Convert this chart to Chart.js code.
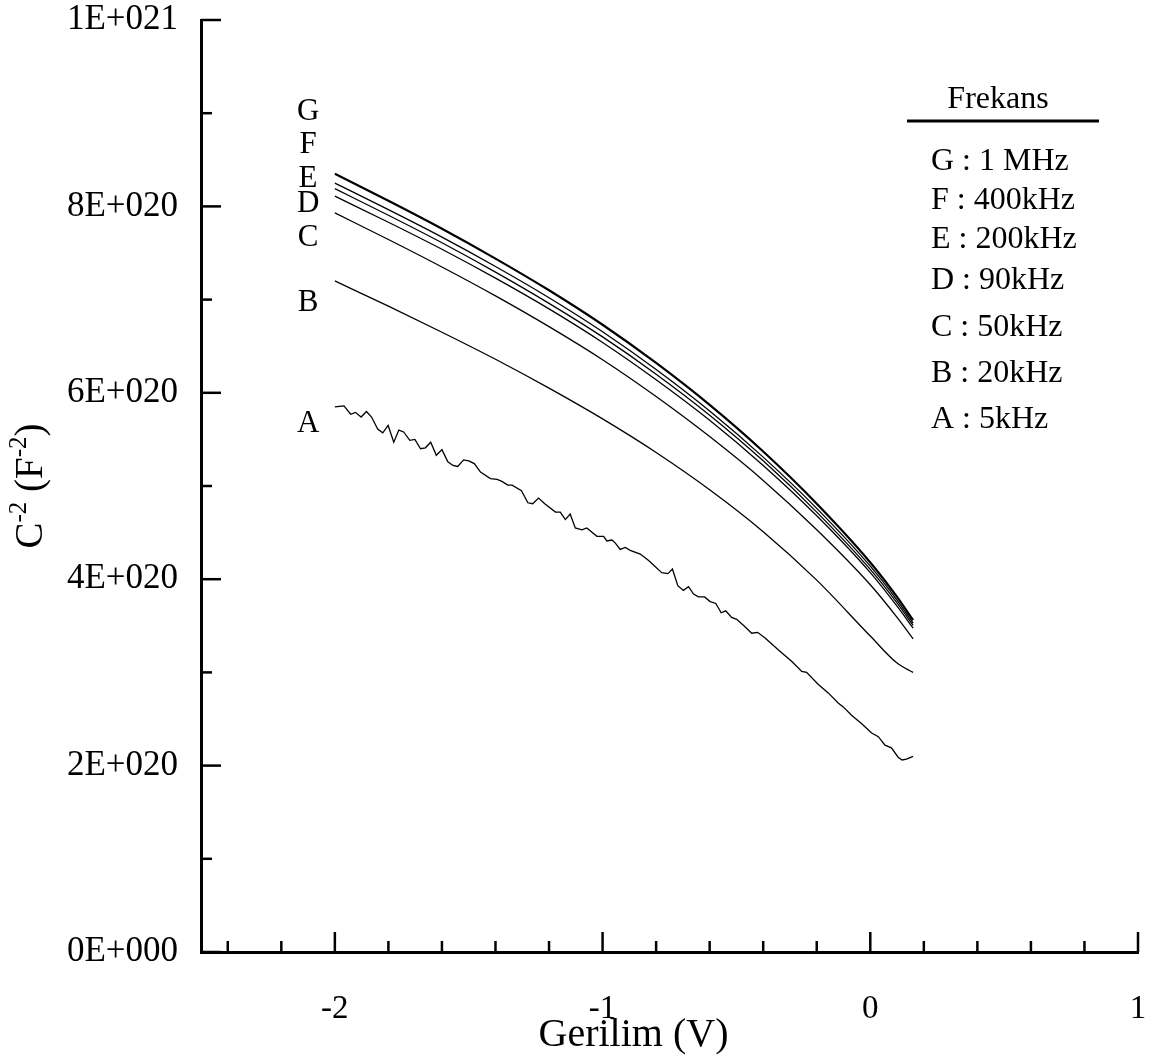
<!DOCTYPE html>
<html>
<head>
<meta charset="utf-8">
<script src="https://cdn.jsdelivr.net/npm/chart.js@4.4.0/dist/chart.umd.min.js"></script>
<style>
  html, body { margin: 0; padding: 0; background: #fff; }
  #wrap { width: 1150px; height: 1055px; }
</style>
</head>
<body>
<div id="wrap"><canvas id="c" width="1150" height="1055"></canvas></div>
<script>
// Gerilim (V) for the smooth curves B..G
const voltage = [-2, -1.8, -1.6, -1.4, -1.2, -1.0, -0.8, -0.6, -0.4, -0.2, 0, 0.1, 0.16];

// C^-2 (F^-2)
const curveG = [8.35e20, 8.06e20, 7.76e20, 7.44e20, 7.10e20, 6.73e20, 6.32e20, 5.87e20, 5.37e20, 4.81e20, 4.18e20, 3.81e20, 3.56e20];
const curveF = [8.25e20, 7.965e20, 7.67e20, 7.355e20, 7.02e20, 6.655e20, 6.25e20, 5.805e20, 5.31e20, 4.76e20, 4.14e20, 3.775e20, 3.53e20];
const curveE = [8.19e20, 7.905e20, 7.61e20, 7.295e20, 6.96e20, 6.60e20, 6.20e20, 5.76e20, 5.27e20, 4.72e20, 4.105e20, 3.745e20, 3.505e20];
const curveD = [8.11e20, 7.83e20, 7.54e20, 7.23e20, 6.90e20, 6.54e20, 6.14e20, 5.705e20, 5.22e20, 4.68e20, 4.07e20, 3.71e20, 3.475e20];
const curveC = [7.93e20, 7.645e20, 7.35e20, 7.04e20, 6.71e20, 6.355e20, 5.96e20, 5.53e20, 5.06e20, 4.53e20, 3.94e20, 3.59e20, 3.36e20];
const curveB = [7.20e20, 6.93e20, 6.65e20, 6.36e20, 6.05e20, 5.72e20, 5.36e20, 4.96e20, 4.51e20, 3.99e20, 3.39e20, 3.10e20, 3.00e20];

// 5 kHz curve is noisy, so it has its own denser sampling
const voltageA = [-2.000, -1.966, -1.941, -1.923, -1.902, -1.882, -1.863, -1.840, -1.821, -1.801,
  -1.780, -1.761, -1.743, -1.720, -1.701, -1.680, -1.662, -1.642, -1.621, -1.600,
  -1.578, -1.559, -1.541, -1.519, -1.500, -1.479, -1.456, -1.419, -1.394, -1.376,
  -1.354, -1.338, -1.303, -1.279, -1.261, -1.239, -1.216, -1.176, -1.158, -1.139,
  -1.121, -1.102, -1.077, -1.059, -1.021, -0.996, -0.984, -0.965, -0.953, -0.934,
  -0.915, -0.897, -0.859, -0.828, -0.779, -0.756, -0.739, -0.719, -0.698, -0.679,
  -0.660, -0.642, -0.619, -0.598, -0.577, -0.557, -0.540, -0.518, -0.499, -0.468,
  -0.443, -0.421, -0.393, -0.343, -0.294, -0.256, -0.238, -0.194, -0.157, -0.119,
  -0.101, -0.070, -0.032, 0.005, 0.030, 0.055, 0.079, 0.104, 0.119, 0.135, 0.160];
const curveA = [5.85e20, 5.86e20, 5.77e20, 5.79e20, 5.74e20, 5.80e20, 5.74e20, 5.61e20, 5.57e20, 5.65e20,
  5.47e20, 5.60e20, 5.58e20, 5.49e20, 5.50e20, 5.40e20, 5.41e20, 5.47e20, 5.33e20, 5.39e20,
  5.26e20, 5.22e20, 5.21e20, 5.28e20, 5.27e20, 5.24e20, 5.15e20, 5.08e20, 5.07e20, 5.05e20,
  5.01e20, 5.01e20, 4.95e20, 4.82e20, 4.81e20, 4.87e20, 4.81e20, 4.72e20, 4.72e20, 4.64e20,
  4.70e20, 4.55e20, 4.53e20, 4.55e20, 4.46e20, 4.46e20, 4.41e20, 4.42e20, 4.39e20, 4.32e20,
  4.34e20, 4.31e20, 4.27e20, 4.20e20, 4.07e20, 4.06e20, 4.11e20, 3.93e20, 3.88e20, 3.92e20,
  3.84e20, 3.81e20, 3.81e20, 3.76e20, 3.74e20, 3.64e20, 3.66e20, 3.59e20, 3.57e20, 3.49e20,
  3.42e20, 3.43e20, 3.37e20, 3.24e20, 3.12e20, 3.01e20, 3.00e20, 2.87e20, 2.78e20, 2.67e20,
  2.63e20, 2.54e20, 2.45e20, 2.35e20, 2.31e20, 2.22e20, 2.19e20, 2.09e20, 2.06e20, 2.07e20, 2.10e20];

const curveNames = ['A', 'B', 'C', 'D', 'E', 'F', 'G'];
const legendLines = ['G : 1 MHz', 'F : 400kHz', 'E : 200kHz', 'D : 90kHz', 'C : 50kHz', 'B : 20kHz', 'A : 5kHz'];

// where the letters next to the curve starts sit (data space)
const letterV = -2.1;
const letterY = [5.67e20, 6.96e20, 7.66e20, 8.03e20, 8.30e20, 8.66e20, 9.01e20];

const xMajorTicks = [-2, -1, 0, 1];
const xMinorTicks = [-2.4, -2.2, -1.8, -1.6, -1.4, -1.2, -0.8, -0.6, -0.4, -0.2, 0.2, 0.4, 0.6, 0.8];
const yMajorTicks = [0, 2e20, 4e20, 6e20, 8e20, 1e21];
const yMinorTicks = [1e20, 3e20, 5e20, 7e20, 9e20];

const SERIF = '"Liberation Serif", "Times New Roman", serif';
const legendRowY = [142, 181, 220, 261, 308, 354, 400];   // offsets below the plot top

function pts(xs, ys) {
  return xs.map((x, i) => ({ x: x, y: ys[i] }));
}

function sciLabel(v) {
  if (v === 0) return '0E+000';
  let exp = Math.floor(Math.log10(v) + 1e-9);
  let mant = Math.round(v / Math.pow(10, exp));
  if (mant >= 10) { mant = mant / 10; exp++; }
  return mant + 'E+' + String(exp).padStart(3, '0');
}

// no extra room for tick labels that stick out past the axis ends
function noOverflow(s) {
  s.paddingTop = 0; s.paddingBottom = 0; s.paddingLeft = 0; s.paddingRight = 0;
}

const smooth = { borderColor: '#000', borderWidth: 1.3, pointRadius: 0, fill: false, cubicInterpolationMode: 'monotone' };

const datasets = [
  Object.assign({ label: 'A', data: pts(voltageA, curveA) }, smooth, { cubicInterpolationMode: 'default', tension: 0 }),
  Object.assign({ label: 'B', data: pts(voltage, curveB) }, smooth),
  Object.assign({ label: 'C', data: pts(voltage, curveC) }, smooth),
  Object.assign({ label: 'D', data: pts(voltage, curveD) }, smooth),
  Object.assign({ label: 'E', data: pts(voltage, curveE) }, smooth),
  Object.assign({ label: 'F', data: pts(voltage, curveF) }, smooth),
  Object.assign({ label: 'G', data: pts(voltage, curveG) }, smooth, { borderWidth: 2.2 })
];

// inward ticks, curve letters, legend box and both axis titles
const decorations = {
  id: 'decorations',
  afterDraw(chart) {
    const ctx = chart.ctx;
    const xs = chart.scales.x, ys = chart.scales.y, ca = chart.chartArea;
    ctx.save();
    ctx.strokeStyle = '#000';
    ctx.lineWidth = 2.5;
    const tick = (x1, y1, x2, y2) => { ctx.beginPath(); ctx.moveTo(x1, y1); ctx.lineTo(x2, y2); ctx.stroke(); };
    xMajorTicks.forEach(v => { const p = xs.getPixelForValue(v); tick(p, ca.bottom, p, ca.bottom - 20); });
    xMinorTicks.forEach(v => { const p = xs.getPixelForValue(v); tick(p, ca.bottom, p, ca.bottom - 11); });
    yMajorTicks.forEach(v => { const p = ys.getPixelForValue(v); tick(ca.left, p, ca.left + 20, p); });
    yMinorTicks.forEach(v => { const p = ys.getPixelForValue(v); tick(ca.left, p, ca.left + 11, p); });

    ctx.fillStyle = '#000';
    ctx.font = '31px ' + SERIF;
    ctx.textAlign = 'center';
    ctx.textBaseline = 'middle';
    curveNames.forEach((n, i) => {
      ctx.fillText(n, xs.getPixelForValue(letterV), ys.getPixelForValue(letterY[i]));
    });

    // legend block
    ctx.font = '32px ' + SERIF;
    ctx.fillText('Frekans', ca.right - 140, ca.top + 80);
    ctx.lineWidth = 3;
    tick(ca.right - 231, ca.top + 101, ca.right - 39, ca.top + 101);
    ctx.textAlign = 'left';
    legendLines.forEach((t, i) => ctx.fillText(t, ca.right - 207, ca.top + legendRowY[i]));

    // x axis title, sitting a little left of the plot centre as in the source figure
    ctx.textAlign = 'center';
    ctx.textBaseline = 'alphabetic';
    ctx.font = '40px ' + SERIF;
    ctx.fillText('Gerilim (V)', (ca.left + ca.right) / 2 - 36, chart.height - 9);

    // y axis title: C^-2 (F^-2)
    ctx.textBaseline = 'middle';
    const parts = [['C', 39, 0], ['-2', 25, -13], [' (F', 39, 0], ['-2', 25, -13], [')', 39, 0]];
    let total = 0;
    parts.forEach(p => { ctx.font = p[1] + 'px ' + SERIF; total += ctx.measureText(p[0]).width; });
    ctx.translate(32, (ca.top + ca.bottom) / 2);
    ctx.rotate(-Math.PI / 2);
    ctx.textAlign = 'left';
    let x = -total / 2;
    parts.forEach(p => {
      ctx.font = p[1] + 'px ' + SERIF;
      ctx.fillText(p[0], x, p[2]);
      x += ctx.measureText(p[0]).width;
    });
    ctx.restore();
  }
};

new Chart(document.getElementById('c'), {
  type: 'line',
  data: { datasets: datasets },
  options: {
    responsive: false,
    animation: false,
    devicePixelRatio: 1,
    layout: { padding: { top: 20, right: 12, left: 0, bottom: 0 } },
    plugins: { legend: { display: false }, tooltip: { enabled: false } },
    scales: {
      x: {
        type: 'linear',
        min: -2.5,
        max: 1,
        grid: { display: false, drawTicks: false },
        border: { display: true, color: '#000', width: 3 },
        ticks: { color: '#000', font: { family: SERIF, size: 33 }, padding: 38 },
        title: { display: false },
        afterBuildTicks: s => { s.ticks = xMajorTicks.map(v => ({ value: v })); },
        afterFit: s => { s.height = 103; noOverflow(s); }
      },
      y: {
        type: 'linear',
        min: 0,
        max: 1e21,
        grid: { display: false, drawTicks: false },
        border: { display: true, color: '#000', width: 3 },
        ticks: { color: '#000', font: { family: SERIF, size: 35 }, padding: 23, callback: v => sciLabel(v) },
        afterBuildTicks: s => { s.ticks = yMajorTicks.map(v => ({ value: v })); },
        afterFit: s => { s.width = 201; noOverflow(s); }
      }
    }
  },
  plugins: [decorations]
});
</script>
</body>
</html>
